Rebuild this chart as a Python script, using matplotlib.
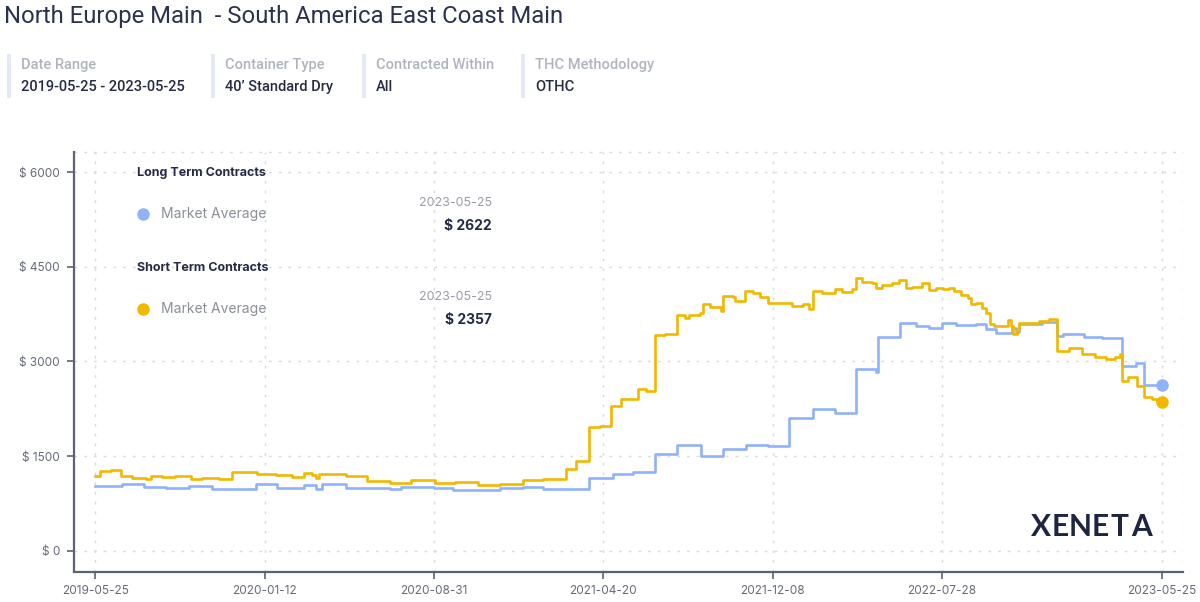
import matplotlib
matplotlib.use("Agg")
import matplotlib.pyplot as plt
import pandas as pd
from matplotlib.patches import Rectangle

# ---------------- data ----------------
title = "North Europe Main  - South America East Coast Main"
filter_labels = ["Date Range", "Container Type", "Contracted Within", "THC Methodology"]
filter_values = ["2019-05-25 - 2023-05-25", "40\u2019 Standard Dry", "All", "OTHC"]

series_groups = ["Long Term Contracts", "Short Term Contracts"]
series_name = "Market Average"
last_date = "2023-05-25"

long_dates = [
    "2019-05-25", "2019-07-01", "2019-07-31", "2019-08-30", "2019-09-30", "2019-11-01",
    "2019-12-31", "2020-01-29", "2020-03-06", "2020-03-22", "2020-03-31", "2020-05-02",
    "2020-07-02", "2020-07-17", "2020-08-31", "2020-09-26", "2020-10-31", "2020-11-30",
    "2020-12-31", "2021-01-27", "2021-02-23", "2021-03-31", "2021-05-03", "2021-05-30",
    "2021-06-30", "2021-07-30", "2021-09-01", "2021-10-01", "2021-11-01", "2021-12-01",
    "2021-12-31", "2022-02-01", "2022-03-04", "2022-04-01", "2022-04-28", "2022-05-01",
    "2022-06-01", "2022-06-22", "2022-07-10", "2022-07-28", "2022-08-16", "2022-09-12",
    "2022-09-26", "2022-10-10", "2022-11-01", "2022-11-06", "2022-11-10", "2022-12-12",
    "2023-01-02", "2023-01-09", "2023-02-08", "2023-03-04", "2023-03-22", "2023-03-31",
    "2023-04-19", "2023-05-01", "2023-05-25",
]
long_values = [
    1025, 1057, 1015, 1004, 1036, 988,
    1067, 1004, 1041, 988, 1067, 1004,
    978, 1020, 1000, 963, 958, 1000,
    1011, 989, 978, 1158, 1226, 1247,
    1542, 1684, 1500, 1616, 1684, 1658,
    2105, 2247, 2184, 2879, 2835, 3395,
    3605, 3563, 3526, 3616, 3579, 3589,
    3510, 3458, 3537, 3474, 3600, 3632,
    3405, 3442, 3389, 3368, 3379, 2932,
    2984, 2632, 2622,
]

short_dates = [
    "2019-05-25", "2019-05-31", "2019-06-15", "2019-06-29", "2019-07-15", "2019-08-02",
    "2019-08-09", "2019-08-25", "2019-09-12", "2019-10-03", "2019-10-19", "2019-11-11",
    "2019-11-29", "2019-12-17", "2020-01-02", "2020-01-27", "2020-02-19", "2020-03-06",
    "2020-03-17", "2020-03-22", "2020-03-26", "2020-05-02", "2020-05-31", "2020-07-02",
    "2020-07-30", "2020-09-02", "2020-09-29", "2020-10-31", "2020-11-30", "2020-12-31",
    "2021-01-27", "2021-02-28", "2021-03-14", "2021-03-31", "2021-04-15", "2021-04-30",
    "2021-05-14", "2021-06-06", "2021-06-17", "2021-06-30", "2021-07-14", "2021-07-30",
    "2021-08-10", "2021-08-15", "2021-08-30", "2021-09-03", "2021-09-13", "2021-09-28",
    "2021-10-01", "2021-10-14", "2021-10-17", "2021-10-31", "2021-11-11", "2021-11-20",
    "2021-12-01", "2021-12-17", "2022-01-04", "2022-01-18", "2022-01-27", "2022-02-01",
    "2022-02-14", "2022-03-04", "2022-03-13", "2022-03-27", "2022-04-01", "2022-04-10",
    "2022-04-23", "2022-04-28", "2022-05-07", "2022-05-21", "2022-05-30", "2022-06-08",
    "2022-06-17", "2022-07-01", "2022-07-10", "2022-07-20", "2022-07-29", "2022-08-07",
    "2022-08-14", "2022-08-23", "2022-09-01", "2022-09-06", "2022-09-12", "2022-09-21",
    "2022-09-26", "2022-10-02", "2022-10-07", "2022-10-26", "2022-10-30", "2022-11-02",
    "2022-11-07", "2022-11-10", "2022-12-08", "2022-12-21", "2023-01-02", "2023-01-18",
    "2023-02-04", "2023-02-23", "2023-03-09", "2023-03-22", "2023-03-29", "2023-03-31",
    "2023-04-09", "2023-04-21", "2023-05-01", "2023-05-11", "2023-05-18", "2023-05-25",
]
short_values = [
    1183, 1268, 1284, 1183, 1162, 1141,
    1194, 1173, 1183, 1141, 1157, 1136,
    1247, 1257, 1226, 1210, 1173, 1236,
    1199, 1162, 1215, 1183, 1110, 1078,
    1120, 1079, 1090, 1037, 1053, 1121,
    1132, 1300, 1432, 1958, 1984, 2300,
    2411, 2563, 2526, 3421, 3437, 3737,
    3684, 3737, 3763, 3905, 3868, 3800,
    4037, 4026, 3963, 4116, 4079, 4026,
    3932, 3921, 3879, 3905, 3826, 4121,
    4089, 4142, 4105, 4142, 4316, 4263,
    4247, 4158, 4210, 4237, 4289, 4158,
    4184, 4237, 4131, 4168, 4142, 4168,
    4116, 4053, 4010, 3905, 3932, 3853,
    3774, 3589, 3563, 3653, 3563, 3432,
    3510, 3616, 3642, 3668, 3168, 3221,
    3116, 3074, 3037, 3074, 3116, 2695,
    2747, 2616, 2442, 2405, 2380, 2357,
]

x_tick_dates = ["2019-05-25", "2020-01-12", "2020-08-31", "2021-04-20",
                "2021-12-08", "2022-07-28", "2023-05-25"]
y_ticks = [0, 1500, 3000, 4500, 6000]
brand = "XENETA"

# ---------------- style ----------------
W, H = 1200, 602
BLUE = "#8fb2fb"
YELLOW = "#f1b800"
NAVY = "#262b45"
GRAY_LBL = "#b0b4bf"
AXIS = "#5c6178"
TICKTXT = "#666b7a"
GRID = "#d9dbe0"


def fx(x):
    return x / W


def fy(y):
    return 1 - y / H


fig = plt.figure(figsize=(W / 100, H / 100), dpi=100)
fig.patch.set_facecolor("white")

# header
fig.text(fx(4), fy(16), title, family="Roboto", fontsize=17.2, color="#2c3150",
         ha="left", va="center")
bar_x = [7, 211, 362, 521]
for bx, lab, val in zip(bar_x, filter_labels, filter_values):
    fig.patches.append(Rectangle((fx(bx), fy(98)), 4 / W, 44 / H, transform=fig.transFigure,
                                 facecolor="#e3e9f6", edgecolor="none"))
    fig.text(fx(bx + 14), fy(65), lab, family="Roboto", fontsize=10.5, color=GRAY_LBL,
             ha="left", va="center", fontweight="medium")
    fig.text(fx(bx + 14), fy(87), val, family="Roboto", fontsize=10.5, color=NAVY,
             ha="left", va="center", fontweight="medium")

# axes
ax = fig.add_axes([fx(74), fy(571.5), (1183 - 74) / W, (571.5 - 151.8) / H])
ld = pd.to_datetime(long_dates)
sd = pd.to_datetime(short_dates)

ax.plot(ld, long_values, drawstyle="steps-post", color=BLUE, lw=1.9, zorder=3)
ax.plot(sd, short_values, drawstyle="steps-post", color=YELLOW, lw=1.9, zorder=4)
ax.plot(ld[-1:], long_values[-1:], "o", ms=8, color=BLUE, zorder=5)
ax.plot(sd[-1:], short_values[-1:], "o", ms=8, color=YELLOW, zorder=6)

xt = pd.to_datetime(x_tick_dates)
ax.set_xlim(pd.Timestamp("2019-04-26"), pd.Timestamp("2023-06-23"))
ax.set_ylim(-325, 6320)
ax.set_xticks(xt)
ax.set_xticklabels(x_tick_dates)
ax.set_yticks(y_ticks)
ax.set_yticklabels([f"$ {v}" for v in y_ticks])

for s in ["top", "right"]:
    ax.spines[s].set_visible(False)
for s in ["left", "bottom"]:
    ax.spines[s].set_color(AXIS)
    ax.spines[s].set_linewidth(1.6)
ax.tick_params(axis="both", colors=AXIS, length=5, width=1.2, labelsize=8.5,
               labelcolor=TICKTXT, pad=5)
for lab in ax.get_xticklabels() + ax.get_yticklabels():
    lab.set_family("Inter")

ax.grid(True, color=GRID, linestyle=(0, (2, 5)), linewidth=1)
ax.axhline(6320, color=GRID, linestyle=(0, (2, 5)), linewidth=1, clip_on=False)
ax.axvline(pd.Timestamp("2023-06-23"), color=GRID, linestyle=(0, (2, 5)), linewidth=1)
ax.set_axisbelow(True)

# in-chart legend
rows = [
    (173, 214, 203, 226, series_groups[0], BLUE, long_values[-1]),
    (268, 309, 297, 320, series_groups[1], YELLOW, short_values[-1]),
]
for hy, my, dy, vy, head, col, last in rows:
    fig.text(fx(137), fy(hy), head, family="Inter", fontsize=9, fontweight="bold",
             color=NAVY, ha="left", va="center")
    fig.lines.append(plt.Line2D([fx(143)], [fy(my)], marker="o", ms=8, color=col,
                                transform=fig.transFigure))
    fig.text(fx(161), fy(my), series_name, family="Inter", fontsize=10, color="#8b8f99",
             ha="left", va="center")
    fig.text(fx(492), fy(dy), last_date, family="Inter", fontsize=9, color="#9a9ea8",
             ha="right", va="center")
    fig.text(fx(492), fy(vy), f"$ {last}", family="Inter", fontsize=10, fontweight="bold",
             color=NAVY, ha="right", va="center")

# brand (letter-spaced)
letter_x = [1040.5, 1060, 1080, 1100, 1119, 1142]
for lx, ch in zip(letter_x, brand):
    fig.text(fx(lx), fy(527.5), ch, family="Lato", fontsize=21.5, fontweight="bold",
             color="#1f2440", ha="center", va="center")

fig.savefig("out.png", dpi=100, facecolor="white")
